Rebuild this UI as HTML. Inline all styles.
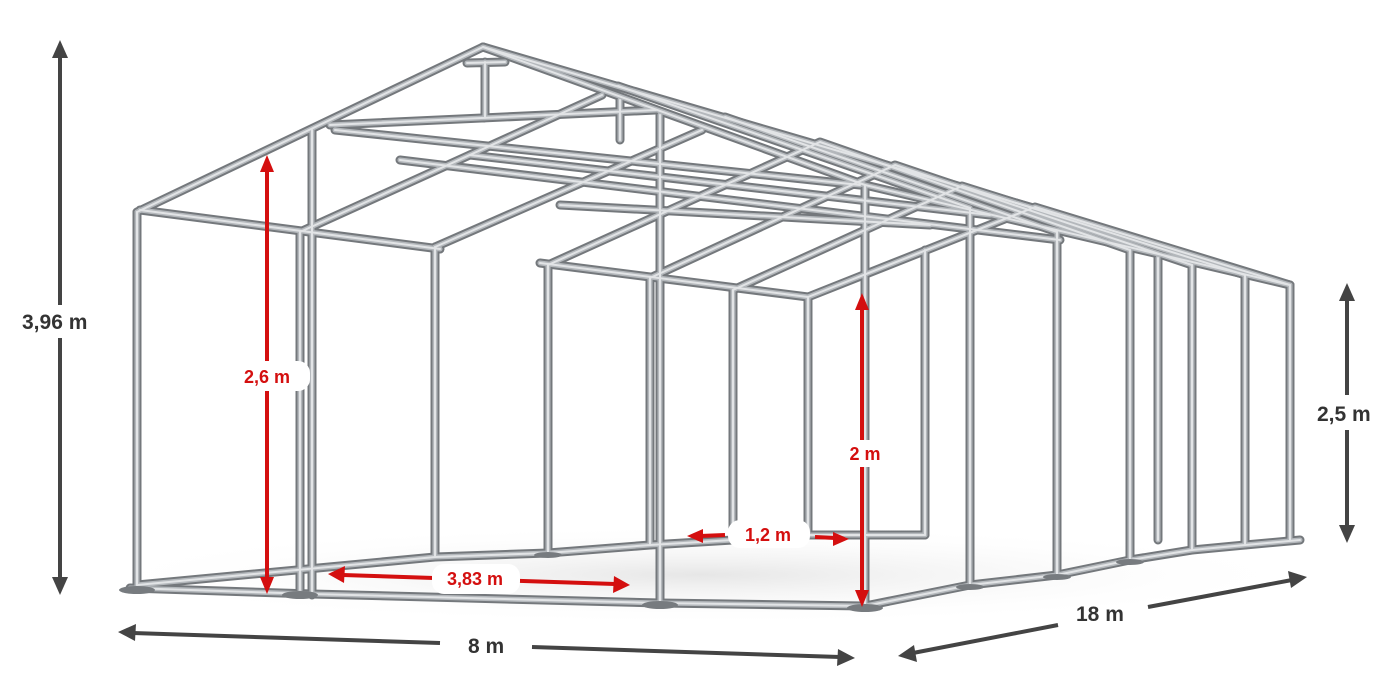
<!DOCTYPE html>
<html><head><meta charset="utf-8"><style>
html,body{margin:0;padding:0;background:#fff;}
svg{display:block}
text{font-family:"Liberation Sans",sans-serif;font-weight:bold;}
</style></head><body>
<svg width="1400" height="700" viewBox="0 0 1400 700" xmlns="http://www.w3.org/2000/svg">
<defs>
<radialGradient id="sh" cx="50%" cy="50%" r="50%"><stop offset="0" stop-color="#e6e6e6"/><stop offset="1" stop-color="#fff" stop-opacity="0"/></radialGradient>
<g id="pipes">
<polyline points="130,588 312,594 660,603 865,606"/>
<polyline points="137,585 435,557 548,553 650,545 733,540 808,535 925,535"/>
<polyline points="865,606 970,585 1057,575 1130,560 1192,550 1245,545 1300,540"/>
<path d="M137,212V585 M300,232V590 M435,247V557 M548,265V553 M650,278V545 M733,290V540 M808,297V535 M925,250V535 M1158,258V540"/>
<path d="M312,130V595 M660,115V603"/>
<path d="M865,185V606 M970,208V585 M1057,232V575 M1130,250V560 M1192,265V550 M1245,275V545 M1290,285V540"/>
<path d="M140,210L440,249 M540,263L808,297 M865,185L1290,285 M483,47L1040,210"/>
<polyline points="137,212 483,47 865,185"/>
<polyline points="300,232 602,95"/>
<polyline points="618,86 970,208"/>
<polyline points="435,247 702,130"/>
<polyline points="725,117 1057,232"/>
<polyline points="548,265 820,142 1130,250"/>
<polyline points="650,278 895,165 1192,265"/>
<polyline points="733,290 962,186 1245,275"/>
<polyline points="808,297 1035,207 1290,285"/>
<path d="M330,125L656,110 M335,130L860,185 M470,155L990,215 M467,63L505,62 M485,62V118 M620,100V140 M400,160L1060,240 M560,205L930,225"/>
</g>
</defs>
<ellipse cx="700" cy="575" rx="620" ry="50" fill="url(#sh)"/>
<g stroke-linecap="round" stroke-linejoin="round" fill="none">
<use href="#pipes" stroke="#74787c" stroke-width="9"/>
<use href="#pipes" stroke="#b4b8bc" stroke-width="5"/>
<use href="#pipes" stroke="#e2e4e6" stroke-width="2"/>
<g fill="#777b7f" stroke="none">
<ellipse cx="137" cy="590" rx="18" ry="4"/><ellipse cx="300" cy="595" rx="18" ry="4"/><ellipse cx="660" cy="605" rx="18" ry="4"/><ellipse cx="865" cy="608" rx="18" ry="4"/>
<ellipse cx="548" cy="555" rx="14" ry="3"/><ellipse cx="970" cy="587" rx="14" ry="3"/><ellipse cx="1057" cy="577" rx="14" ry="3"/><ellipse cx="1130" cy="562" rx="14" ry="3"/>
</g>
</g>
<g stroke="#444" stroke-width="4" fill="#444">
<line x1="60" y1="55" x2="60" y2="305"/><line x1="60" y1="338" x2="60" y2="580"/>
<polygon points="60,40 52,58 68,58" stroke="none"/><polygon points="60,595 52,577 68,577" stroke="none"/>
<line x1="1347" y1="298" x2="1347" y2="395"/><line x1="1347" y1="430" x2="1347" y2="528"/>
<polygon points="1347,283 1339,301 1355,301" stroke="none"/><polygon points="1347,543 1339,525 1355,525" stroke="none"/>
<line x1="133" y1="633" x2="440" y2="643"/><line x1="532" y1="647" x2="840" y2="657"/>
<polygon points="118,632 136,624 135,641" stroke="none"/><polygon points="855,658 837,666 838,649" stroke="none"/>
<line x1="913" y1="653" x2="1058" y2="625"/><line x1="1148" y1="607" x2="1292" y2="580"/>
<polygon points="898,656 914,645 917,662" stroke="none"/><polygon points="1307,577 1291,588 1288,571" stroke="none"/>
</g>
<g fill="#333" font-size="21">
<text x="22" y="329">3,96 m</text>
<text x="1317" y="421">2,5 m</text>
<text x="468" y="653">8 m</text>
<text x="1076" y="621">18 m</text>
</g>
<g stroke="#d40f0f" stroke-width="4" fill="#d40f0f">
<line x1="267" y1="170" x2="267" y2="580"/>
<polygon points="267,155 260,172 274,172" stroke="none"/><polygon points="267,594 260,577 274,577" stroke="none"/>
<line x1="862" y1="308" x2="862" y2="592"/>
<polygon points="862,293 855,310 869,310" stroke="none"/><polygon points="862,607 855,590 869,590" stroke="none"/>
<line x1="343" y1="575" x2="615" y2="584"/>
<polygon points="328,574 345,566 344,583" stroke="none"/><polygon points="630,585 613,593 614,576" stroke="none"/>
<line x1="700" y1="536" x2="725" y2="535"/><polygon points="687,536 703,529 703,543" stroke="none"/>
<line x1="815" y1="537" x2="835" y2="538"/><polygon points="849,539 833,532 833,546" stroke="none"/>
</g>
<g fill="#fff">
<rect x="222" y="361" width="88" height="30" rx="12"/>
<rect x="825" y="440" width="80" height="27" rx="12"/>
<rect x="432" y="564" width="88" height="30" rx="12"/>
<rect x="728" y="520" width="82" height="28" rx="12"/>
</g>
<g fill="#d40f0f" font-size="18" text-anchor="middle">
<text x="267" y="383">2,6 m</text>
<text x="865" y="460">2 m</text>
<text x="475" y="585">3,83 m</text>
<text x="768" y="541">1,2 m</text>
</g>
</svg>
</body></html>
